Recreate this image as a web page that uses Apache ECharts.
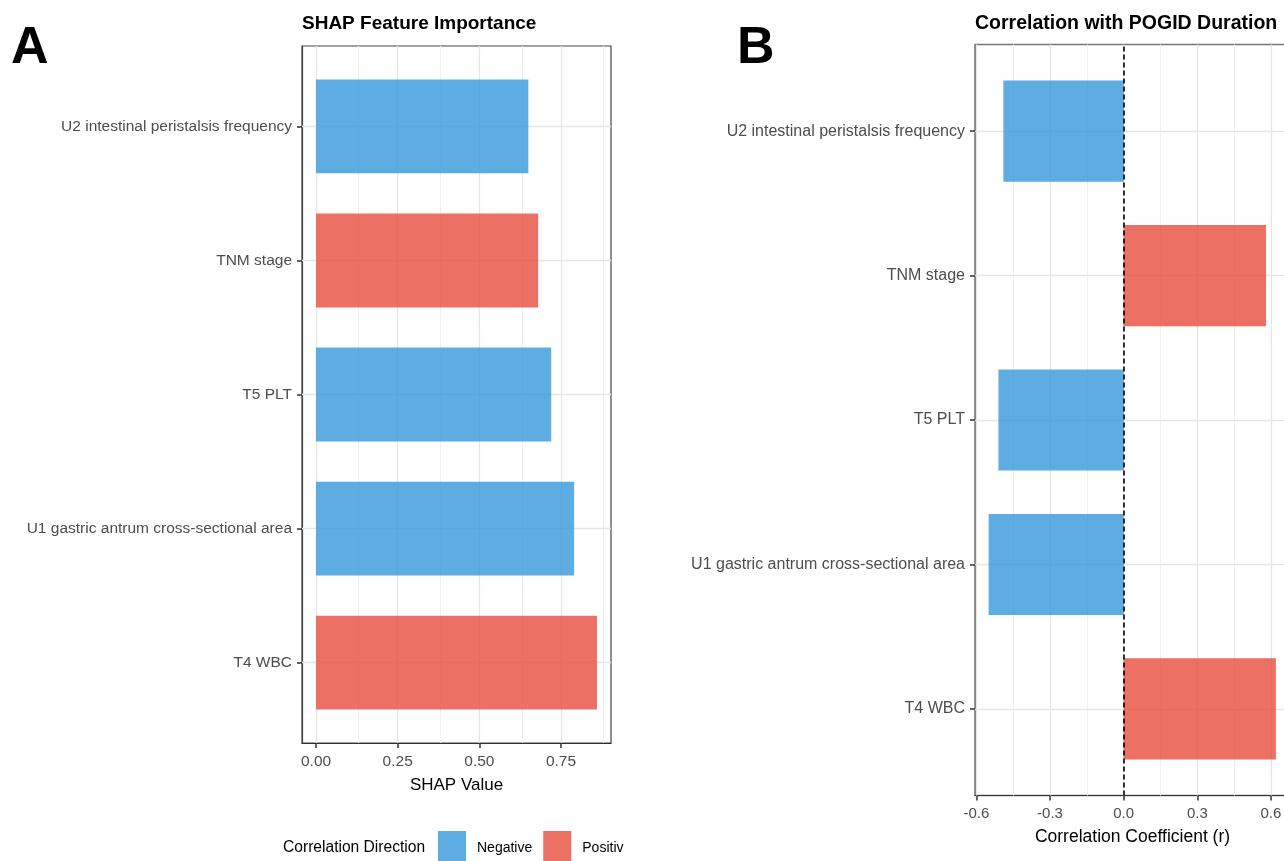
<!DOCTYPE html>
<html>
<head>
<meta charset="utf-8">
<script src="https://cdn.jsdelivr.net/npm/echarts@6/dist/echarts.min.js"></script>
<style>
  html, body { margin: 0; padding: 0; background: #fff; }
  #chart { width: 1284px; height: 861px; }
</style>
</head>
<body>
<div id="chart"></div>
<script>
// ---- data ----
const features = [
  'U2 intestinal peristalsis frequency',
  'TNM stage',
  'T5 PLT',
  'U1 gastric antrum cross-sectional area',
  'T4 WBC'
];
const shapValues = [0.65, 0.68, 0.72, 0.79, 0.86];
const corrValues = [-0.49, 0.58, -0.51, -0.55, 0.62];
const directions = ['Negative', 'Positive'];
const shapTicks = [0, 0.25, 0.5, 0.75];
const shapMinorTicks = [0.125, 0.375, 0.625, 0.875];
const corrTicks = [-0.6, -0.3, 0, 0.3, 0.6];
const corrMinorTicks = [-0.45, -0.15, 0.15, 0.45];
const rowTicks = [1, 2, 3, 4, 5];
const zeroLine = [0];

// ---- styling ----
const FONT = 'Liberation Sans, Arial, sans-serif';
const colors = { Negative: 'rgba(52,152,219,0.8)', Positive: 'rgba(231,76,60,0.8)' };
const n = features.length;

function rowsFor(values, dir) {
  return values
    .map((v, i) => [v, n - i, corrValues[i]])
    .filter(d => (d[2] < 0) === (dir === 'Negative'));
}

function renderBar(params, api) {
  const v = api.value(0), y = api.value(1);
  const p0 = api.coord([0, y]);
  const p1 = api.coord([v, y]);
  const h = api.size([0, 0.7])[1];
  return {
    type: 'rect',
    shape: { x: Math.min(p0[0], p1[0]), y: p0[1] - h / 2, width: Math.abs(p1[0] - p0[0]), height: h },
    style: { fill: api.visual('color') }
  };
}

function yAxisFor(gridIndex, borderColor, fontSize) {
  return {
    type: 'value', gridIndex, min: 0.4, max: 5.6,
    axisLine: { show: true, onZero: false, lineStyle: { color: borderColor, width: 1.2 } },
    axisTick: { show: true, length: 5, customValues: rowTicks, lineStyle: { color: '#333', width: 1.5 } },
    axisLabel: {
      customValues: rowTicks, margin: 10, color: '#4D4D4D', fontSize, fontFamily: FONT,
      formatter: v => features[n - Math.round(v)]
    },
    splitLine: { show: false }
  };
}

function gridLineSeries(xIdx, major, minor) {
  return {
    type: 'line', xAxisIndex: xIdx, yAxisIndex: xIdx, data: [], silent: true,
    markLine: {
      z: 1, silent: true, symbol: ['none', 'none'], label: { show: false },
      emphasis: { disabled: true },
      animation: false,
      data: [
        ...minor.map(v => ({ xAxis: v, lineStyle: { color: '#F0F0F0', width: 1, type: 'solid' } })),
        ...major.map(v => ({ xAxis: v, lineStyle: { color: '#E6E6E6', width: 1.3, type: 'solid' } })),
        ...rowTicks.map(v => ({ yAxis: v, lineStyle: { color: '#E6E6E6', width: 1.3, type: 'solid' } }))
      ]
    }
  };
}

const series = [
  gridLineSeries(0, shapTicks, shapMinorTicks),
  gridLineSeries(1, corrTicks, corrMinorTicks)
];
directions.forEach(dir => {
  series.push({
    name: dir, type: 'custom', xAxisIndex: 0, yAxisIndex: 0, z: 3,
    itemStyle: { color: colors[dir] },
    encode: { x: 0, y: 1 }, renderItem: renderBar,
    data: rowsFor(shapValues, dir)
  });
  series.push({
    name: dir, type: 'custom', xAxisIndex: 1, yAxisIndex: 1, z: 3,
    itemStyle: { color: colors[dir] },
    encode: { x: 0, y: 1 }, renderItem: renderBar,
    data: rowsFor(corrValues, dir)
  });
});
series.push({
  type: 'line', xAxisIndex: 1, yAxisIndex: 1, data: [], silent: true,
  markLine: {
    z: 6, silent: true, symbol: ['none', 'none'], label: { show: false },
    emphasis: { disabled: true }, animation: false,
    lineStyle: { color: '#000', width: 1.6, type: [5, 3] },
    data: zeroLine.map(v => ({ xAxis: v }))
  }
});

const option = {
  animation: false,
  backgroundColor: '#fff',
  textStyle: { fontFamily: FONT },
  title: [
    { text: 'A', left: 11, top: 23, padding: 0, textStyle: { fontSize: 52, fontWeight: 'bold', color: '#000', fontFamily: FONT } },
    { text: 'B', left: 737, top: 23, padding: 0, textStyle: { fontSize: 52, fontWeight: 'bold', color: '#000', fontFamily: FONT } },
    { text: 'SHAP Feature Importance', left: 302, top: 14, padding: 0, textStyle: { fontSize: 19, fontWeight: 'bold', color: '#000', fontFamily: FONT } },
    { text: 'Correlation with POGID Duration', left: 975, top: 14, padding: 0, textStyle: { fontSize: 19.5, fontWeight: 'bold', color: '#000', fontFamily: FONT } },
    { text: 'Correlation Direction', left: 283, top: 840, padding: 0, textStyle: { fontSize: 15.6, fontWeight: 'normal', color: '#000', fontFamily: FONT } }
  ],
  legend: {
    left: 438, top: 831, padding: 0, itemWidth: 28, itemHeight: 34, itemGap: 11,
    icon: 'rect', selectedMode: false,
    textStyle: { fontSize: 14, color: '#000', fontFamily: FONT, padding: [0, 0, 0, 6] },
    data: [
      { name: 'Negative' },
      { name: 'Positive', textStyle: { width: 47, overflow: 'truncate', ellipsis: '' } }
    ]
  },
  grid: [
    { left: 302, top: 46, width: 309, height: 697, show: true, borderColor: '#444', borderWidth: 1.2, backgroundColor: 'transparent', outerBoundsMode: 'none', containLabel: false },
    { left: 975, top: 44.5, width: 315, height: 751, show: true, borderColor: '#777', borderWidth: 1.5, backgroundColor: 'transparent', outerBoundsMode: 'none', containLabel: false }
  ],
  xAxis: [
    {
      type: 'value', gridIndex: 0, min: -0.043, max: 0.903,
      axisLine: { show: true, onZero: false, lineStyle: { color: '#333', width: 1.2 } },
      axisTick: { show: true, length: 5, customValues: shapTicks, lineStyle: { color: '#333', width: 1.5 } },
      axisLabel: { customValues: shapTicks, margin: 11, color: '#4D4D4D', fontSize: 15.5, fontFamily: FONT, formatter: v => v.toFixed(2) },
      splitLine: { show: false },
      name: 'SHAP Value', nameLocation: 'middle', nameGap: 34,
      nameTextStyle: { fontSize: 17, color: '#000', fontFamily: FONT }
    },
    {
      type: 'value', gridIndex: 1, min: -0.6055, max: 0.6775,
      axisLine: { show: true, onZero: false, lineStyle: { color: '#333', width: 1.2 } },
      axisTick: { show: true, length: 5, customValues: corrTicks, lineStyle: { color: '#333', width: 1.5 } },
      axisLabel: { customValues: corrTicks, margin: 11, color: '#4D4D4D', fontSize: 15, fontFamily: FONT, formatter: v => v.toFixed(1) },
      splitLine: { show: false },
      name: 'Correlation Coefficient (r)', nameLocation: 'middle', nameGap: 33,
      nameTextStyle: { fontSize: 17.5, color: '#000', fontFamily: FONT }
    }
  ],
  yAxis: [yAxisFor(0, '#444', 15.5), yAxisFor(1, '#777', 16)],
  series
};

const chart = echarts.init(document.getElementById('chart'), null, { renderer: 'canvas' });
chart.setOption(option);
</script>
</body>
</html>
